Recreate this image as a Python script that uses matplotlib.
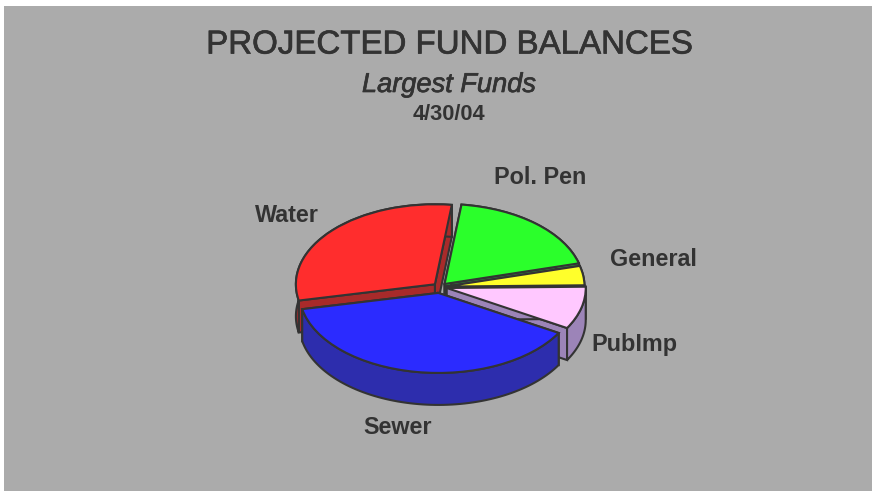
import numpy as np
import matplotlib
matplotlib.use("Agg")
import matplotlib.pyplot as plt
import matplotlib.patheffects as pe
from matplotlib.patches import Rectangle

W, H = 872, 491

# Fund shares, in percent of the five largest funds
funds = ["Water", "Sewer", "PubImp", "General", "Pol. Pen"]
shares = [30.2, 38.4, 8.6, 3.9, 18.9]
pull_out = [0.05, 0.075, 0.05, 0.04, 0.05]
top_colors = ["#FF2D2D", "#2B2BFF", "#FFC8FF", "#FFFF2B", "#2BFF2B"]
side_colors = ["#A82A2A", "#2D2DAD", "#9C84B8", "#A8A82A", "#2A9A3A"]
# Back pieces are painted first so the front pieces overlap them
paint_order = [4, 3, 0, 2, 1]

label_px = {"Water": (287, 215), "Sewer": (398, 427), "PubImp": (634, 345),
            "General": (653, 259), "Pol. Pen": (540, 177)}

INK = "#333333"
PANEL = "#ABABAB"
CENTER_PX = (440, 287)
RX_PX, RY_PX = 139, 80
DEPTH = 32 / RY_PX

plt.rcParams["font.family"] = ["Liberation Sans", "DejaVu Sans"]

fig = plt.figure(figsize=(W / 100, H / 100), dpi=100, facecolor="white")
fig.add_artist(Rectangle((4 / W, 0), (W - 4) / W, (H - 6) / H,
                         transform=fig.transFigure, facecolor=PANEL,
                         edgecolor="none", zorder=-5))

ax = fig.add_axes([0, 0, 1, 1])
ax.patch.set_alpha(0)
wedges, _ = ax.pie(shares, explode=pull_out, colors=top_colors, startangle=83,
                   counterclock=True,
                   wedgeprops={"edgecolor": INK, "linewidth": 1.5})

# A non-equal aspect turns the circular pie into a tilted ellipse
ax.set_aspect("auto")
ax.set_xlim(-CENTER_PX[0] / RX_PX, (W - CENTER_PX[0]) / RX_PX)
ax.set_ylim((CENTER_PX[1] - H) / RY_PX, CENTER_PX[1] / RY_PX)


def extrude(segment_x, segment_y, color, z):
    """Fill the wall swept by moving a boundary segment down by DEPTH."""
    xs = np.r_[segment_x, segment_x[::-1]]
    ys = np.r_[segment_y, segment_y[::-1] - DEPTH]
    ax.fill(xs, ys, facecolor=color, edgecolor=INK, linewidth=1.5,
            joinstyle="miter", zorder=z)


for rank, i in enumerate(paint_order):
    wedge = wedges[i]
    cx, cy = wedge.center
    t = np.radians(np.linspace(wedge.theta1, wedge.theta2, 80))
    arc_x = cx + wedge.r * np.cos(t)
    arc_y = cy + wedge.r * np.sin(t)
    z = 2 * rank + 2
    extrude(np.array([cx, arc_x[0]]), np.array([cy, arc_y[0]]), side_colors[i], z)
    extrude(np.array([cx, arc_x[-1]]), np.array([cy, arc_y[-1]]), side_colors[i], z)
    extrude(arc_x, arc_y, side_colors[i], z)
    wedge.set_zorder(z + 1)


def put_text(x_px, y_px, text, heavier=0.0, **kw):
    t = fig.text(x_px / W, 1 - y_px / H, text, ha="center", va="center",
                 color=INK, **kw)
    if heavier:
        t.set_path_effects([pe.withStroke(linewidth=heavier, foreground=INK)])


put_text(449, 45, "PROJECTED FUND BALANCES", heavier=0.5, fontsize=23.8)
put_text(449, 85, "Largest Funds", heavier=0.5, fontsize=19.6, style="italic")
put_text(449, 115, "4/30/04", fontsize=15.7, weight="bold")

for name in funds:
    put_text(*label_px[name], name, fontsize=16.8, weight="bold")

fig.savefig("out.png", dpi=100, facecolor="white")
